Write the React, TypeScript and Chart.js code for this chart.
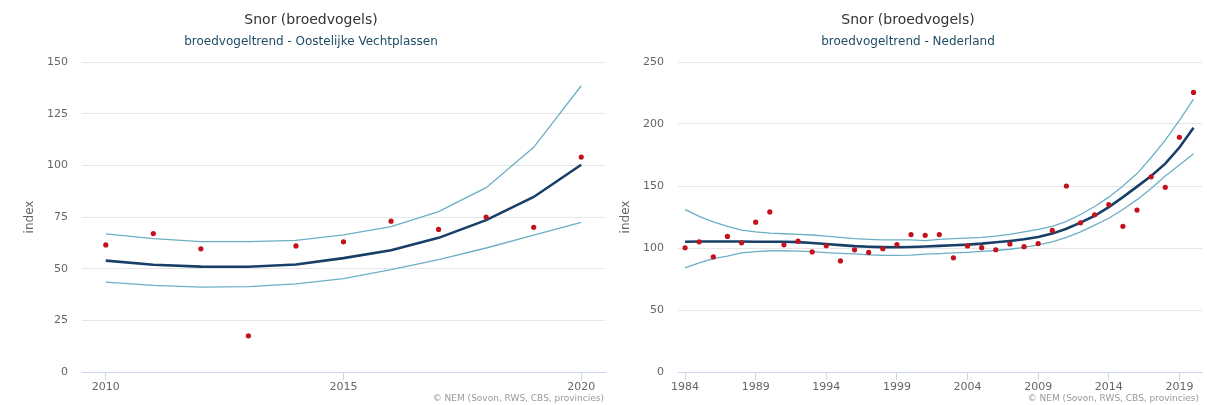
import React, { useEffect, useRef } from "react";
import { Chart, registerables } from "chart.js";

Chart.register(...registerables);

const chartTitle = "Snor (broedvogels)";
const leftSubtitle = "broedvogeltrend - Oostelijke Vechtplassen";
const rightSubtitle = "broedvogeltrend - Nederland";
const creditText = "© NEM (Sovon, RWS, CBS, provincies)";
const yAxisTitle = "index";

// Left chart: Oostelijke Vechtplassen
const leftYears = [2010, 2011, 2012, 2013, 2014, 2015, 2016, 2017, 2018, 2019, 2020];
const leftIndex = [61.5, 67, 59.6, 17.5, 61, 63, 73, 69, 75, 70, 104];
const leftTrend = [53.9, 51.9, 51, 50.9, 52, 55.1, 58.9, 64.9, 73.5, 84.7, 100.3];
const leftUpper = [66.8, 64.5, 63.1, 63.1, 63.7, 66.3, 70.3, 77.6, 89.2, 108.7, 138.5];
const leftLower = [43.5, 41.9, 41.1, 41.3, 42.6, 45.2, 49.5, 54.4, 60, 66.2, 72.4];
const leftXTicks = [2010, 2015, 2020];

// Right chart: Nederland
const rightYears = [
  1984, 1985, 1986, 1987, 1988, 1989, 1990, 1991, 1992, 1993, 1994, 1995, 1996,
  1997, 1998, 1999, 2000, 2001, 2002, 2003, 2004, 2005, 2006, 2007, 2008, 2009,
  2010, 2011, 2012, 2013, 2014, 2015, 2016, 2017, 2018, 2019, 2020,
];
const rightIndex = [
  100.2, 105, 92.8, 109.3, 104.2, 120.8, 129.1, 102.6, 105.5, 96.8, 101.8, 89.6, 98.5,
  96.4, 99.4, 102.8, 110.8, 110.2, 110.8, 92.1, 101.7, 100.3, 98.6, 103.3, 101.1, 103.6,
  114.2, 150, 120.3, 126.8, 135, 117.5, 130.6, 157.4, 148.9, 189.3, 225.5,
];
const rightTrend = [
  105, 105.2, 105.3, 105.3, 105.2, 105, 105, 105, 104.7, 104, 103.2, 102.3, 101.5,
  101, 100.7, 100.6, 100.8, 101.2, 101.7, 102.2, 102.7, 103.5, 104.6, 105.7, 107, 108.9,
  111.6, 115.5, 120.5, 126, 133, 141, 149.5, 158, 168, 181, 197,
];
const rightUpper = [
  131, 125.5, 121, 117.5, 114.5, 113, 112, 111.5, 111, 110.5, 109.5, 108.5, 107.5,
  107, 106.5, 106.5, 106.5, 106, 107, 107.5, 108, 108.5, 109.5, 111, 113, 115,
  117.5, 121.5, 127, 133.5, 141, 150, 160, 173, 187, 203, 220,
];
const rightLower = [
  84, 88, 91.5, 93.5, 96, 97, 97.8, 97.8, 97.5, 97, 96.3, 95.7, 95.2,
  94.5, 94, 94, 94.2, 95, 95.5, 96, 96.5, 97.2, 98, 99, 100.5, 102.5,
  105, 108.5, 113, 118.5, 124, 131, 139, 148, 158, 167, 176,
];
const rightXTicks = [1984, 1989, 1994, 1999, 2004, 2009, 2014, 2019];

const FONT = "'DejaVu Sans', sans-serif";
const TREND_COLOR = "#173f68";
const BAND_COLOR = "#6cafc5";
const POINT_COLOR = "#c3121c";

type Panel = {
  subtitle: string;
  years: number[];
  index: number[];
  trend: number[];
  upper: number[];
  lower: number[];
  xTicks: number[];
  xMin: number;
  xMax: number;
  yMax: number;
  yStep: number;
  width: number;
  padLeft: number;
  padRight: number;
  yAxisWidth: number;
  yTitlePad: number;
  creditRight: number;
};

const pts = (xs: number[], ys: number[]) => xs.map((x, i) => ({ x, y: ys[i] }));

const creditsPlugin = {
  id: "credits",
  afterDraw(chart: any) {
    const opts = chart.options.plugins.credits;
    if (!opts) return;
    const ctx = chart.ctx;
    ctx.save();
    ctx.font = `9px ${FONT}`;
    ctx.fillStyle = "#999999";
    ctx.textAlign = "right";
    ctx.textBaseline = "middle";
    ctx.fillText(opts.text, chart.width - opts.right, 399);
    ctx.restore();
  },
};

function makeConfig(p: Panel): any {
  return {
    type: "line",
    data: {
      datasets: [
        {
          label: "index",
          data: pts(p.years, p.index),
          showLine: false,
          pointRadius: 2.6,
          pointHoverRadius: 2.6,
          pointBackgroundColor: POINT_COLOR,
          pointBorderWidth: 0,
          borderColor: POINT_COLOR,
        },
        {
          label: "trend",
          data: pts(p.years, p.trend),
          borderColor: TREND_COLOR,
          borderWidth: 2.6,
          pointRadius: 0,
          tension: 0,
        },
        {
          label: "upper",
          data: pts(p.years, p.upper),
          borderColor: BAND_COLOR,
          borderWidth: 1.3,
          pointRadius: 0,
          tension: 0,
        },
        {
          label: "lower",
          data: pts(p.years, p.lower),
          borderColor: BAND_COLOR,
          borderWidth: 1.3,
          pointRadius: 0,
          tension: 0,
        },
      ],
    },
    options: {
      responsive: false,
      animation: false,
      devicePixelRatio: 1,
      layout: { padding: { left: p.padLeft, right: p.padRight, top: 0, bottom: 0 } },
      plugins: {
        legend: { display: false },
        tooltip: { enabled: false },
        title: {
          display: true,
          text: chartTitle,
          color: "#333333",
          font: { family: FONT, size: 14, weight: "normal", lineHeight: 1.2 },
          padding: { top: 12, bottom: 4 },
        },
        subtitle: {
          display: true,
          text: p.subtitle,
          color: "#1f4b68",
          font: { family: FONT, size: 12, weight: "normal", lineHeight: 1.2 },
          padding: { top: 2, bottom: 12.8 },
        },
        credits: { text: creditText, right: p.creditRight },
      },
      scales: {
        x: {
          type: "linear",
          min: p.xMin,
          max: p.xMax,
          afterBuildTicks: (s: any) => {
            s.ticks = p.xTicks.map((v) => ({ value: v }));
          },
          afterFit: (s: any) => {
            s.height = 33;
          },
          grid: {
            drawOnChartArea: false,
            drawTicks: true,
            tickLength: 8,
            color: "#ccd6eb",
          },
          border: { display: true, color: "#ccd6eb", width: 1 },
          ticks: {
            font: { family: FONT, size: 11 },
            color: "#666666",
            padding: 1,
            maxRotation: 0,
            autoSkip: false,
            callback: (v: any) => String(v),
          },
        },
        y: {
          min: 0,
          max: p.yMax,
          afterFit: (s: any) => {
            s.width = p.yAxisWidth;
          },
          grid: { color: "#e6e6e6", drawTicks: false, lineWidth: 1 },
          border: { display: false },
          ticks: {
            stepSize: p.yStep,
            font: { family: FONT, size: 11 },
            color: "#666666",
            padding: 14,
            callback: (v: any) => String(v),
          },
          title: {
            display: true,
            text: yAxisTitle,
            color: "#666666",
            font: { family: FONT, size: 12, weight: "normal", lineHeight: 1.2 },
            padding: { top: p.yTitlePad, bottom: 0 },
          },
        },
      },
    },
    plugins: [creditsPlugin],
  };
}

const leftPanel: Panel = {
  subtitle: leftSubtitle,
  years: leftYears,
  index: leftIndex,
  trend: leftTrend,
  upper: leftUpper,
  lower: leftLower,
  xTicks: leftXTicks,
  xMin: 2009.5,
  xMax: 2020.5,
  yMax: 150,
  yStep: 25,
  width: 622,
  padLeft: 17,
  padRight: 17,
  yAxisWidth: 65,
  yTitlePad: 6,
  creditRight: 18,
};

const rightPanel: Panel = {
  subtitle: rightSubtitle,
  years: rightYears,
  index: rightIndex,
  trend: rightTrend,
  upper: rightUpper,
  lower: rightLower,
  xTicks: rightXTicks,
  xMin: 1983.5,
  xMax: 2020.6,
  yMax: 250,
  yStep: 50,
  width: 597,
  padLeft: 4,
  padRight: 5,
  yAxisWidth: 64,
  yTitlePad: 5,
  creditRight: 8,
};

function ChartPanel({ panel, left }: { panel: Panel; left: number }) {
  const ref = useRef<HTMLCanvasElement | null>(null);
  useEffect(() => {
    if (!ref.current) return;
    const chart = new Chart(ref.current, makeConfig(panel));
    return () => chart.destroy();
  }, [panel]);
  return (
    <canvas
      ref={ref}
      width={panel.width}
      height={405}
      style={{ position: "absolute", left, top: 0, width: panel.width, height: 405 }}
    />
  );
}

export default function App() {
  return (
    <div
      style={{
        position: "absolute",
        left: 0,
        top: 0,
        width: 1207,
        height: 405,
        background: "#ffffff",
        overflow: "hidden",
      }}
    >
      <ChartPanel panel={leftPanel} left={0} />
      <ChartPanel panel={rightPanel} left={610} />
    </div>
  );
}
